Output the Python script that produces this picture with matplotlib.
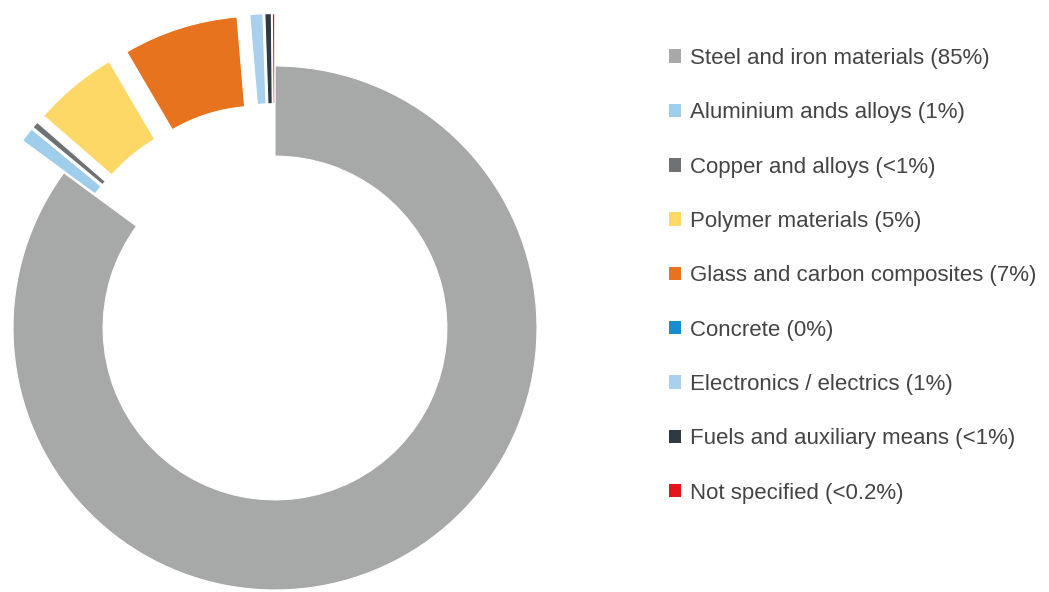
import matplotlib
matplotlib.use("Agg")
from matplotlib import pyplot as plt
from matplotlib.patches import Patch

plt.rcParams["font.family"] = ["Liberation Sans", "DejaVu Sans"]

# data (legend text + slice sizes estimated from the ring)
materials = [
    "Steel and iron materials",
    "Aluminium ands alloys",
    "Copper and alloys",
    "Polymer materials",
    "Glass and carbon composites",
    "Concrete",
    "Electronics / electrics",
    "Fuels and auxiliary means",
    "Not specified",
]
shares = [85.3, 0.9, 0.4, 5.2, 7.1, 0.0, 0.8, 0.4, 0.15]
share_labels = ["85%", "1%", "<1%", "5%", "7%", "0%", "1%", "<1%", "<0.2%"]
colors = ["#a7a9a8", "#9fcdec", "#6f7275", "#fdd866", "#e7731e",
          "#168ecf", "#a9d0ec", "#2e3a43", "#e3141c"]
explode = [0.0, 0.2, 0.2, 0.2, 0.2, 0.2, 0.2, 0.2, 0.2]

W, H, DPI = 1049, 592, 100
fig = plt.figure(figsize=(W / DPI, H / DPI), dpi=DPI)

# donut centre (275, 328) px from top-left, outer radius 262 px
cx, cy, R = 275, 328, 262
ax_w = 580
ax = fig.add_axes([0, 0, ax_w / W, 1])
wedges, _ = ax.pie(
    shares,
    colors=colors,
    explode=explode,
    startangle=90,
    counterclock=False,
    radius=1.0,
    wedgeprops=dict(width=0.344, edgecolor="white", linewidth=0.8),
)
ax.set_aspect("auto")
ax.set_xlim(-cx / R, (ax_w - cx) / R)
ax.set_ylim(-(H - cy) / R, cy / R)
ax.axis("off")

handles = [Patch(facecolor=c, edgecolor="none") for c in colors]
labels = [f"{m} ({s})" for m, s in zip(materials, share_labels)]
fig.legend(
    handles, labels,
    loc="upper left",
    bbox_to_anchor=(669 / W, 1 - 48 / H),
    frameon=False,
    fontsize=16,
    labelcolor="#444444",
    handlelength=0.55,
    handleheight=0.55,
    handletextpad=0.4,
    labelspacing=1.5,
    borderaxespad=0,
    borderpad=0,
)

fig.savefig("out.png", dpi=DPI)
